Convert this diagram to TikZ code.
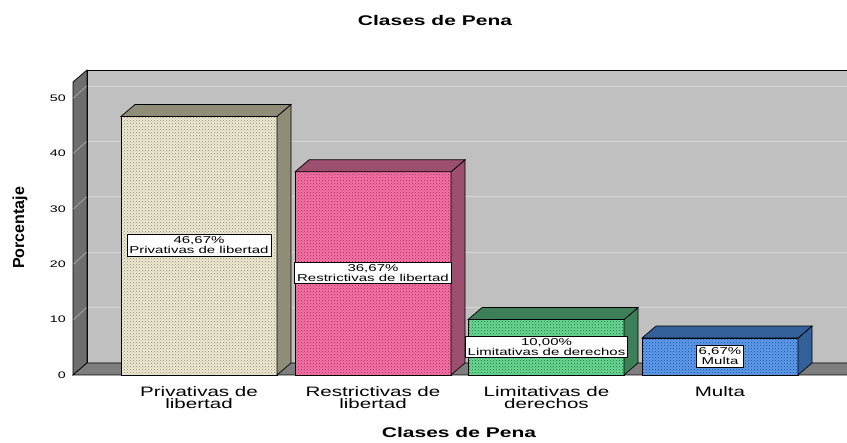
\documentclass[tikz,border=0pt]{standalone}
\usepackage{fontspec}
\setmainfont{Liberation Sans}
\newfontfamily\wideF[FakeStretch=1.5]{Liberation Sans}
\usetikzlibrary{patterns}
\definecolor{wallback}{HTML}{C0C0C0}
\definecolor{gridc}{HTML}{D6D6D6}
\definecolor{wallleft}{HTML}{6E6E6E}
\definecolor{gridl}{HTML}{A6A6A6}
\definecolor{floorc}{HTML}{7E7E7E}
\definecolor{barAf}{HTML}{EFEAD4}
\definecolor{barAd}{HTML}{8C8468}
\definecolor{barAs}{HTML}{8F8C78}
\definecolor{barBf}{HTML}{F472A6}
\definecolor{barBd}{HTML}{A02A5C}
\definecolor{barBs}{HTML}{9C4F6E}
\definecolor{barCf}{HTML}{6AD894}
\definecolor{barCd}{HTML}{1E6E3A}
\definecolor{barCs}{HTML}{3C7F58}
\definecolor{barDf}{HTML}{5E9CEC}
\definecolor{barDd}{HTML}{1A4690}
\definecolor{barDs}{HTML}{34609A}
\tikzset{
  outl/.style={draw=black, line width=0.7pt},
  vallabel/.style={draw=black, fill=white, line width=0.6pt, align=center,
    inner xsep=2.5pt, inner ysep=2.2pt, font=\wideF\fontsize{10}{10}\selectfont},
  catlabel/.style={align=center, inner sep=0pt, anchor=north,
    font=\wideF\fontsize{13.7}{12.5}\selectfont},
  ticklabel/.style={anchor=east, inner sep=0pt, font=\wideF\fontsize{9.5}{10}\selectfont},
  titlestyle/.style={inner sep=0pt, anchor=base, font=\wideF\bfseries\fontsize{14}{14}\selectfont}
}
\begin{document}
\begin{tikzpicture}[x=1pt,y=-1pt]
\useasboundingbox (0,0) rectangle (847,443);
\fill[white] (0,0) rectangle (847,443);
\begin{scope}
\clip (0,0) rectangle (847,443);
% back wall
\fill[wallback] (87,70) rectangle (850,363);
\foreach \v in {10,20,30,40,50}{
  \pgfmathsetmacro\yf{375-5.54*\v}
  \draw[gridc, line width=0.8pt] (87,\yf-12) -- (850,\yf-12);
}
\draw[outl] (850,70) -- (87,70) -- (87,363);
% left wall
\filldraw[fill=wallleft, outl] (73,82) -- (87,70) -- (87,363) -- (73,375) -- cycle;
\foreach \v in {10,20,30,40,50}{
  \pgfmathsetmacro\yf{375-5.54*\v}
  \draw[gridl, line width=0.8pt] (73.5,\yf) -- (86.5,\yf-12);
}
% floor
\filldraw[fill=floorc, outl] (73,375) -- (87,363) -- (850,363) -- (850,375) -- cycle;
% bars
\foreach \xa/\v/\fc/\dc/\sc in {121/46.67/barAf/barAd/barAs, 295/36.67/barBf/barBd/barBs, 468/10.00/barCf/barCd/barCs, 642/6.67/barDf/barDd/barDs}{
  \pgfmathsetmacro\yt{375-5.54*\v}
  \pgfmathsetmacro\xb{\xa+156}
  \fill[\fc] (\xa,\yt) rectangle (\xb,375);
  \fill[pattern=crosshatch dots, pattern color=\dc] (\xa,\yt) rectangle (\xb,375);
  \draw[outl] (\xa,\yt) rectangle (\xb,375);
  \filldraw[fill=\sc, outl] (\xb,\yt) -- (\xb+14,\yt-12) -- (\xb+14,363) -- (\xb,375) -- cycle;
  \filldraw[fill=\sc, outl] (\xa,\yt) -- (\xa+14,\yt-12) -- (\xb+14,\yt-12) -- (\xb,\yt) -- cycle;
}
\end{scope}
% tick labels
\foreach \v in {0,10,20,30,40,50}{
  \pgfmathsetmacro\yf{375-5.54*\v}
  \node[ticklabel] (t\v) at (66,\yf) {\v};
}
% value labels
\node[vallabel] (la) at (199,245.5) {46,67\%\\Privativas de libertad};
\node[vallabel] (lb) at (373,273) {36,67\%\\Restrictivas de libertad};
\node[vallabel] (lc) at (546.5,347) {10,00\%\\Limitativas de derechos};
\node[vallabel] (ld) at (720,356.5) {6,67\%\\Multa};
% category labels
\node[catlabel] (ca) at (199,386) {Privativas de\\libertad};
\node[catlabel] (cb) at (373,386) {Restrictivas de\\libertad};
\node[catlabel] (cc) at (546.5,386) {Limitativas de\\derechos};
\node[catlabel] (cd) at (720,386) {Multa};
% titles
\node[titlestyle] (title) at (435,26) {Clases de Pena};
\node[titlestyle] (xtitle) at (459,438) {Clases de Pena};
\node[rotate=90, inner sep=0pt, font=\bfseries\fontsize{16}{16}\selectfont] (ytitle) at (20,228) {Porcentaje};
\end{tikzpicture}
\end{document}
